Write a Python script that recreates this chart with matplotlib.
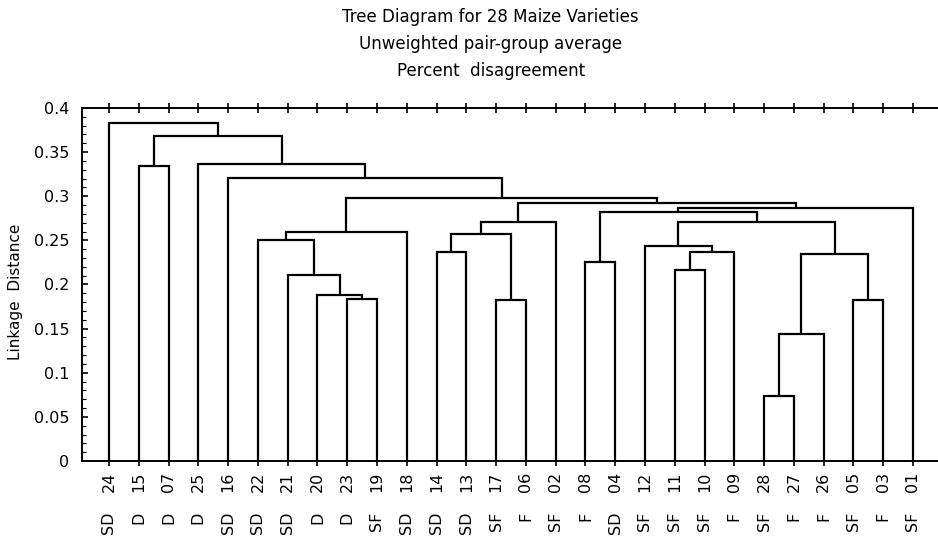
import numpy as np
import matplotlib
matplotlib.use('Agg')
import matplotlib.pyplot as plt
from matplotlib.ticker import MultipleLocator

# leaf order along the x axis, with variety type under each number
leaves = ['24', '15', '07', '25', '16', '22', '21', '20', '23', '19', '18', '14', '13', '17',
          '06', '02', '08', '04', '12', '11', '10', '09', '28', '27', '26', '05', '03', '01']
groups = ['SD', 'D', 'D', 'D', 'SD', 'SD', 'SD', 'D', 'D', 'SF', 'SD', 'SD', 'SD', 'SF',
          'F', 'SF', 'F', 'SD', 'SF', 'SF', 'SF', 'F', 'SF', 'F', 'F', 'SF', 'F', 'SF']

# joins: (left, right, linkage distance); ints point to an earlier join
merges = [
    ('28', '27', 0.074),   # 0
    (0, '26', 0.144),      # 1
    ('05', '03', 0.182),   # 2
    (1, 2, 0.235),         # 3
    ('11', '10', 0.216),   # 4
    (4, '09', 0.237),      # 5
    ('12', 5, 0.244),      # 6
    ('08', '04', 0.225),   # 7
    (6, 3, 0.271),         # 8
    (7, 8, 0.282),         # 9
    (9, '01', 0.287),      # 10
    ('17', '06', 0.183),   # 11
    ('14', '13', 0.237),   # 12
    (12, 11, 0.257),       # 13
    (13, '02', 0.271),     # 14
    (14, 10, 0.292),       # 15
    ('23', '19', 0.184),   # 16
    ('20', 16, 0.188),     # 17
    ('21', 17, 0.211),     # 18
    ('22', 18, 0.250),     # 19
    (19, '18', 0.259),     # 20
    (20, 15, 0.298),       # 21
    ('16', 21, 0.321),     # 22
    ('25', 22, 0.337),     # 23
    ('15', '07', 0.334),   # 24
    (24, 23, 0.368),       # 25
    ('24', 25, 0.383),     # 26
]

fig = plt.figure(figsize=(9.38, 5.40), dpi=100)
ax = fig.add_axes([0.0874, 0.1463, 0.9126, 0.6537])

pos = {name: i for i, name in enumerate(leaves)}
nodes = []  # (x centre, height) of each join


def node(ref):
    if isinstance(ref, int):
        return nodes[ref]
    return pos[ref], 0.0


for a, b, h in merges:
    xa, ha = node(a)
    xb, hb = node(b)
    ax.plot([xa, xa, xb, xb], [ha, h, h, hb], color='black', lw=1.6,
            solid_joinstyle='miter', solid_capstyle='butt')
    nodes.append(((xa + xb) / 2, h))

ax.set_xlim(-0.907, 27.84)
ax.set_ylim(0, 0.4)
ax.spines['right'].set_visible(False)
for s in ['left', 'top', 'bottom']:
    ax.spines[s].set_linewidth(1.4)

ax.set_xticks(range(len(leaves)))
ax.set_xticklabels([''] * len(leaves))
ax.tick_params(axis='x', which='both', direction='inout', length=7, width=1.2,
               top=True, bottom=True)
ax.yaxis.set_major_locator(MultipleLocator(0.05))
ax.yaxis.set_minor_locator(MultipleLocator(0.01))
ax.set_yticks(np.arange(0, 0.41, 0.05))
ax.set_yticklabels(['0', '0.05', '0.1', '0.15', '0.2', '0.25', '0.3', '0.35', '0.4'])
ax.tick_params(axis='y', which='major', direction='in', length=4, width=1.2,
               labelsize=11.5, pad=9)
ax.tick_params(axis='y', which='minor', direction='in', length=3, width=0.8)

tr = ax.get_xaxis_transform()
for i, (num, grp) in enumerate(zip(leaves, groups)):
    ax.text(i, -0.031, num, transform=tr, rotation=90, ha='center', va='top', fontsize=11.5)
    ax.text(i, -0.144, grp, transform=tr, rotation=90, ha='center', va='top', fontsize=11.5)

ax.set_ylabel('Linkage  Distance', fontsize=11)
ax.yaxis.set_label_coords(-0.069, 0.48)

fig.text(0.523, 0.968, 'Tree Diagram for 28 Maize Varieties', ha='center', va='center', fontsize=12)
fig.text(0.523, 0.918, 'Unweighted pair-group average', ha='center', va='center', fontsize=12)
fig.text(0.523, 0.868, 'Percent  disagreement', ha='center', va='center', fontsize=12)

fig.savefig('out.png', dpi=100)
